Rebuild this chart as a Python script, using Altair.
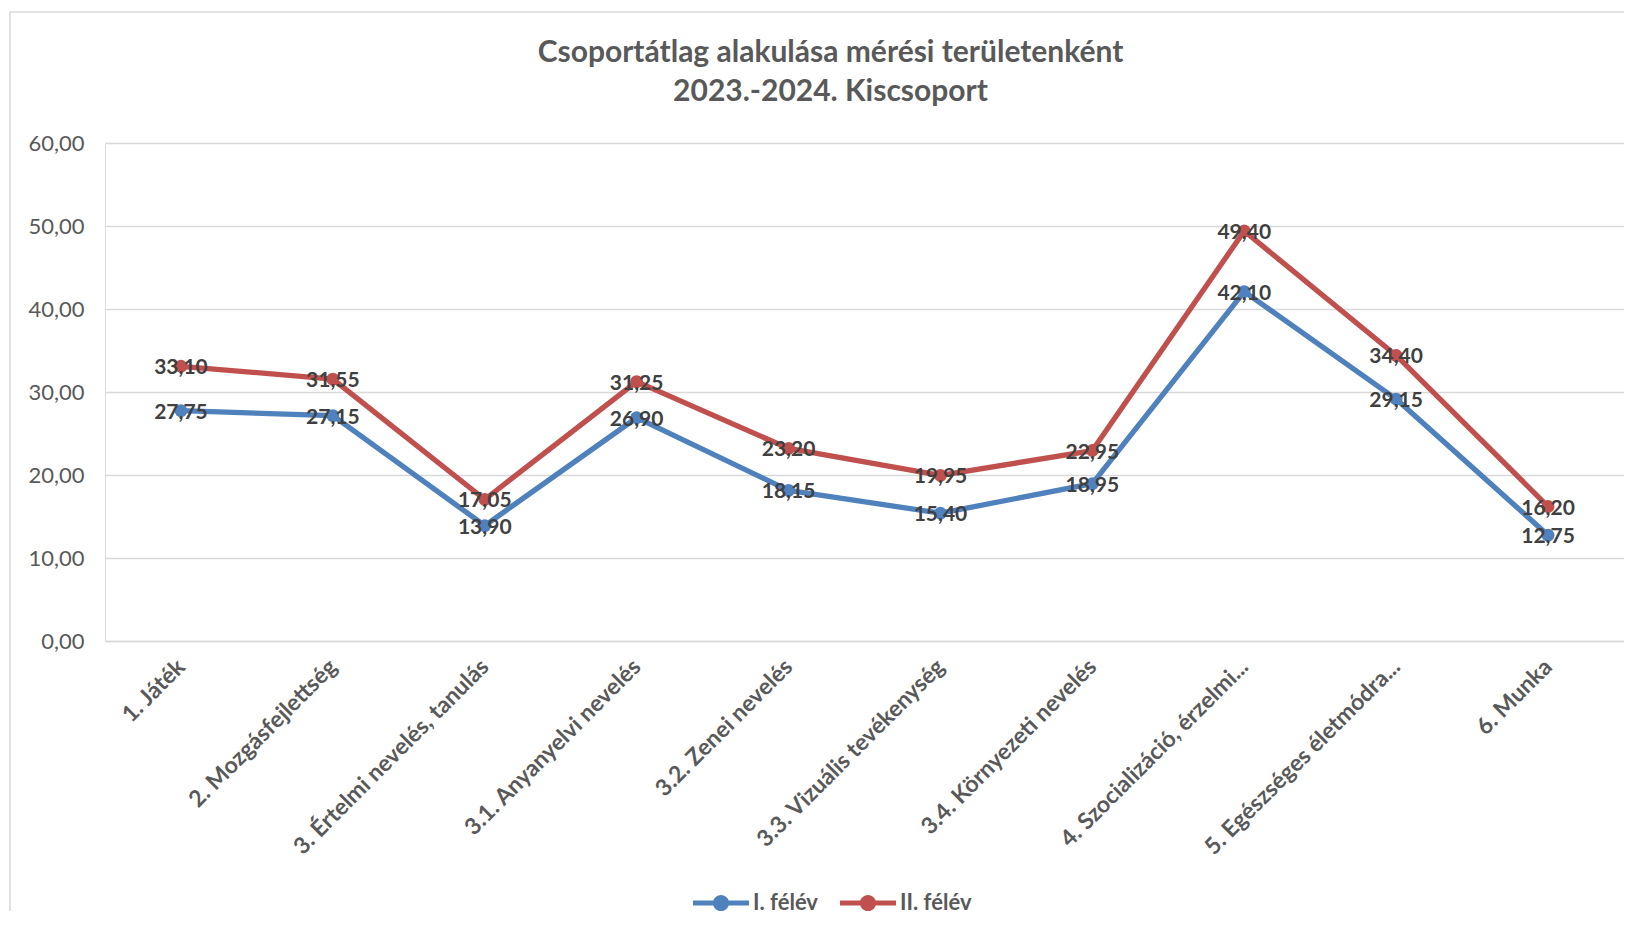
import altair as alt
import pandas as pd

categories = [
    "1. Játék",
    "2. Mozgásfejlettség",
    "3. Értelmi nevelés, tanulás",
    "3.1. Anyanyelvi nevelés",
    "3.2. Zenei nevelés",
    "3.3. Vizuális tevékenység",
    "3.4. Környezeti nevelés",
    "4. Szocializáció, érzelmi...",
    "5. Egészséges életmódra...",
    "6. Munka",
]
felev1 = [27.75, 27.15, 13.90, 26.90, 18.15, 15.40, 18.95, 42.10, 29.15, 12.75]
felev2 = [33.10, 31.55, 17.05, 31.25, 23.20, 19.95, 22.95, 49.40, 34.40, 16.20]
series_names = ["I. félév", "II. félév"]
series_colors = ["#4F81BD", "#C0504D"]
y_ticks = [0, 10, 20, 30, 40, 50, 60]
title_lines = ["Csoportátlag alakulása mérési területenként", "2023.-2024. Kiscsoport"]

rows = []
for s, vals in zip(series_names, [felev1, felev2]):
    for c, v in zip(categories, vals):
        rows.append({"cat": c, "series": s, "value": v})
df = pd.DataFrame(rows)

FONT = "Lato"
GRAY = "#595959"

x_enc = alt.X(
    "cat:N",
    sort=categories,
    scale=alt.Scale(domain=categories),
    axis=alt.Axis(
        title=None,
        labelAngle=-45,
        labelAlign="right",
        labelBaseline="middle",
        labelFont=FONT,
        labelFontSize=23,
        labelFontWeight="bold",
        labelColor=GRAY,
        labelPadding=22,
        ticks=False,
        domain=True,
        domainColor="#D9D9D9",
        domainWidth=1.5,
        grid=False,
        labelLimit=400,
    ),
)
y_enc = alt.Y(
    "value:Q",
    scale=alt.Scale(domain=[0, 60], nice=False),
    axis=alt.Axis(
        title=None,
        values=y_ticks,
        labelExpr="replace(format(datum.value, '.2f'), '.', ',')",
        labelFont=FONT,
        labelFontSize=22,
        labelColor=GRAY,
        labelPadding=21,
        ticks=False,
        domain=False,
        grid=True,
        gridColor="#D9D9D9",
        gridWidth=1.5,
    ),
)
color_scale = alt.Scale(domain=series_names, range=series_colors)

sym_path = (
    "M-1,-0.09L1,-0.09L1,0.09L-1,0.09Z "
    "M0.29,0A0.29,0.29 0 1,1 -0.29,0A0.29,0.29 0 1,1 0.29,0Z"
)

legend = alt.Legend(
    title=None,
    orient="none",
    legendX=588,
    legendY=732,
    direction="horizontal",
    symbolType=sym_path,
    symbolSize=3136,
    symbolStrokeWidth=0,
    symbolOpacity=1,
    labelFont=FONT,
    labelFontSize=22,
    labelFontWeight="bold",
    labelColor=GRAY,
    labelOffset=4,
    labelLimit=300,
    columnPadding=22,
)

base = alt.Chart(df)

border = alt.Chart(pd.DataFrame({"a": [0]})).mark_rect(
    fill="transparent", stroke="#D9D9D9", strokeWidth=1.5
).encode(
    x=alt.value(-95), x2=alt.value(1580), y=alt.value(-131), y2=alt.value(840)
)

lines = base.mark_line(strokeWidth=5.3, strokeJoin="round", strokeCap="round").encode(
    x=x_enc, y=y_enc, color=alt.Color("series:N", scale=color_scale, legend=legend)
)

points = base.mark_circle(size=165, opacity=1).encode(
    x=x_enc,
    y=y_enc,
    color=alt.Color("series:N", scale=color_scale, legend=legend),
)

labels = base.transform_calculate(
    lbl="replace(format(datum.value, '.2f'), '.', ',')"
).mark_text(
    font=FONT, fontSize=21, fontWeight="bold", color="#404040", dy=2, align="center", baseline="middle"
).encode(x=x_enc, y=y_enc, text="lbl:N")

chart = (
    alt.layer(border, lines, points, labels)
    .properties(
        width=1519,
        height=498,
        autosize=alt.AutoSizeParams(type="none"),
        padding={"left": 97, "top": 135, "right": 0, "bottom": 270},
        title=alt.TitleParams(
            text=title_lines,
            font=FONT,
            fontSize=30,
            fontWeight="bold",
            color=GRAY,
            lineHeight=39,
            anchor="middle",
            frame="group",
            dx=-34,
            dy=96,
            offset=0,
        ),
    )
    .configure_view(stroke=None)
    .configure(background="white")
)

chart.save("out.html", embed_options={"renderer": "svg", "actions": False})
